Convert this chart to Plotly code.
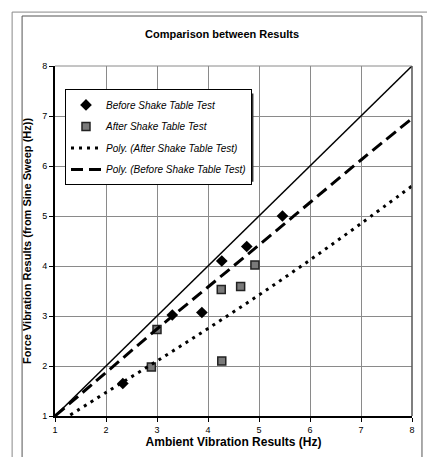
import plotly.graph_objects as go

# Measured frequencies (Hz): ambient vibration (x) vs forced vibration sine sweep (y)
before_x = [2.33, 3.30, 3.88, 4.27, 4.76, 5.46]
before_y = [1.65, 3.02, 3.07, 4.10, 4.39, 5.00]

after_x = [2.89, 3.00, 4.26, 4.27, 4.64, 4.92]
after_y = [1.98, 2.73, 3.53, 2.10, 3.59, 4.02]

# Polynomial trendlines as drawn on the chart
poly_before_x = [1, 2, 3, 4, 5, 6, 7, 8]
poly_before_y = [1.00, 1.87, 2.74, 3.58, 4.42, 5.27, 6.12, 6.95]

poly_after_x = [1.3, 2, 3, 4, 5, 6, 7, 8]
poly_after_y = [1.02, 1.47, 2.10, 2.75, 3.42, 4.12, 4.85, 5.60]

# 1:1 reference line
equal_x = [1, 8]
equal_y = [1, 8]

x_ticks = [1, 2, 3, 4, 5, 6, 7, 8]
y_ticks = [1, 2, 3, 4, 5, 6, 7, 8]

FONT = "Liberation Sans, Arial, sans-serif"

fig = go.Figure()

fig.add_trace(go.Scatter(
    x=equal_x, y=equal_y, mode="lines",
    line=dict(color="black", width=1.5),
    showlegend=False, hoverinfo="skip",
))
fig.add_trace(go.Scatter(
    x=before_x, y=before_y, mode="markers", name="Before Shake Table Test",
    marker=dict(symbol="diamond", size=9, color="black"),
    legendgroup="a",
))
fig.add_trace(go.Scatter(
    x=after_x, y=after_y, mode="markers", name="After Shake Table Test",
    marker=dict(symbol="square", size=8, color="#7a7a7a",
                line=dict(color="#222222", width=1.5)),
    legendgroup="b",
))
fig.add_trace(go.Scatter(
    x=poly_after_x, y=poly_after_y, mode="lines", name="Poly. (After Shake Table Test)",
    line=dict(color="black", width=3, dash="3px,5px", shape="spline"),
    legendgroup="c",
))
fig.add_trace(go.Scatter(
    x=poly_before_x, y=poly_before_y, mode="lines", name="Poly. (Before Shake Table Test)",
    line=dict(color="black", width=3, dash="12px,6px", shape="spline"),
    legendgroup="d",
))

axis_common = dict(
    range=[1, 8], tickmode="array",
    showgrid=True, gridcolor="#8a8a8a", gridwidth=1,
    zeroline=False, showline=True, linecolor="black", linewidth=2,
    ticks="outside", ticklen=4, tickcolor="black",
    tickfont=dict(family=FONT, size=9, color="black"),
)

fig.update_layout(
    width=427, height=457,
    margin=dict(l=55, r=14, t=66, b=34),
    paper_bgcolor="white", plot_bgcolor="white",
    title=dict(text="<b>Comparison between Results</b>", x=0.52, xanchor="center",
               y=0.925, yanchor="middle",
               font=dict(family=FONT, size=11, color="black")),
    xaxis=dict(axis_common, tickvals=x_ticks,
               title=dict(text="<b>Ambient Vibration Results (Hz)</b>", standoff=2,
                          font=dict(family=FONT, size=12, color="black"))),
    yaxis=dict(axis_common, tickvals=y_ticks,
               title=dict(text="<b>Force Vibration Results (from Sine Sweep (Hz))</b>", standoff=8,
                          font=dict(family=FONT, size=11, color="black"))),
    legend=dict(x=0.028, y=0.933, xanchor="left", yanchor="top",
                bgcolor="white", bordercolor="black", borderwidth=1,
                font=dict(family=FONT, size=10, color="black", style="italic"),
                itemwidth=30, tracegroupgap=2.5, traceorder="grouped"),
    showlegend=True,
)

# Plot-area top and right borders
fig.add_shape(type="line", xref="paper", yref="paper", x0=0, x1=1, y0=1, y1=1,
              line=dict(color="#8a8a8a", width=1))
fig.add_shape(type="line", xref="paper", yref="paper", x0=1, x1=1, y0=0, y1=1,
              line=dict(color="#555555", width=1.5))

# Chart frame lines
pw, ph = 358.0, 357.0
def px_x(p):
    return (p - 55) / pw
def px_y(p):
    return (423 - p) / ph

fig.add_shape(type="rect", xref="paper", yref="paper",
              x0=px_x(22), x1=px_x(423), y0=px_y(470), y1=px_y(15),
              line=dict(color="#555555", width=1), layer="below")
fig.add_shape(type="rect", xref="paper", yref="paper",
              x0=px_x(12), x1=px_x(440), y0=px_y(470), y1=px_y(11),
              line=dict(color="#888888", width=1), layer="below")

# Drop shadow along the legend's right and bottom edges
fig.add_shape(type="rect", xref="paper", yref="paper",
              x0=px_x(70), x1=px_x(254), y0=px_y(184), y1=px_y(94),
              line=dict(width=0), fillcolor="#333333", layer="above")

fig.write_html("out.html")
